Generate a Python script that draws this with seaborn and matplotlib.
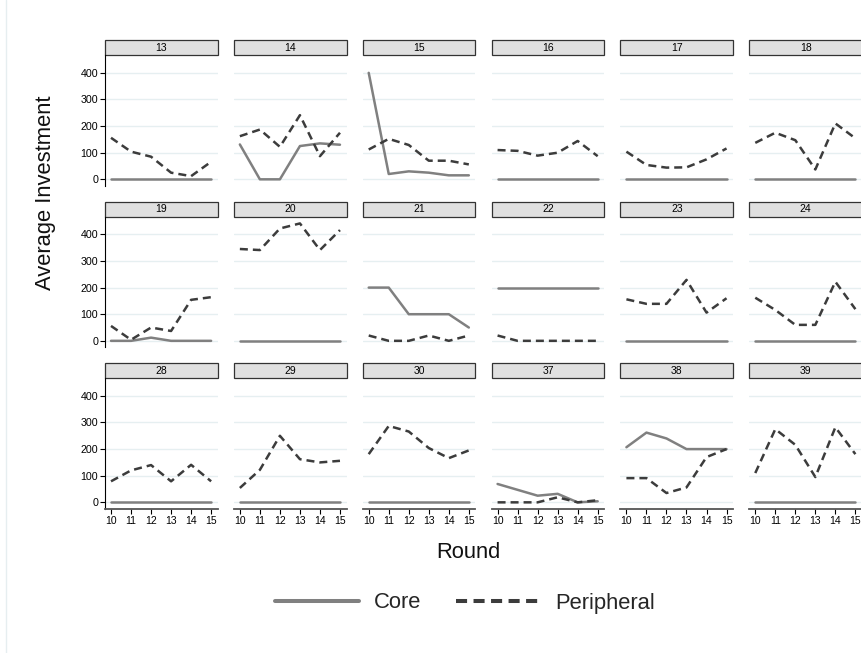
import pandas as pd
import matplotlib.pyplot as plt
import seaborn as sns
from matplotlib.lines import Line2D
from matplotlib.patches import Rectangle

# ---- data ----
groups = [13, 14, 15, 16, 17, 18,
          19, 20, 21, 22, 23, 24,
          28, 29, 30, 37, 38, 39]
rounds = [10, 11, 12, 13, 14, 15]

core = [
    [0, 0, 0, 0, 0, 0],
    [131, 0, 0, 125, 135, 130],
    [400, 20, 30, 25, 15, 15],
    [0, 0, 0, 0, 0, 0],
    [0, 0, 0, 0, 0, 0],
    [2, 2, 2, 2, 2, 2],
    [0, 0, 12, 0, 0, 0],
    [0, 0, 0, 0, 0, 0],
    [200, 200, 100, 100, 100, 50],
    [200, 200, 200, 200, 200, 200],
    [0, 0, 0, 0, 0, 0],
    [0, 0, 0, 0, 0, 0],
    [0, 0, 0, 0, 0, 0],
    [0, 0, 0, 0, 0, 0],
    [0, 0, 0, 0, 0, 0],
    [69, 47, 25, 32, 0, 4],
    [207, 262, 240, 200, 200, 200],
    [0, 0, 0, 0, 0, 0],
]
peripheral = [
    [156, 104, 85, 25, 12, 66],
    [162, 187, 122, 241, 87, 175],
    [112, 152, 129, 70, 70, 56],
    [110, 107, 89, 100, 144, 87],
    [104, 54, 44, 45, 75, 116],
    [137, 175, 147, 37, 210, 154],
    [56, 4, 50, 37, 154, 164],
    [345, 341, 422, 441, 341, 416],
    [20, 0, 0, 20, 0, 20],
    [20, 0, 0, 0, 0, 0],
    [156, 139, 139, 229, 106, 160],
    [162, 116, 60, 60, 222, 119],
    [79, 120, 140, 79, 141, 79],
    [54, 122, 250, 162, 150, 156],
    [181, 287, 266, 204, 166, 195],
    [0, 0, 0, 19, 0, 8],
    [91, 91, 35, 56, 170, 200],
    [110, 275, 216, 95, 282, 181],
]

rows = []
for g, c, p in zip(groups, core, peripheral):
    for r, cv, pv in zip(rounds, c, p):
        rows.append((g, r, 'Core', cv))
        rows.append((g, r, 'Peripheral', pv))
df = pd.DataFrame(rows, columns=['Group', 'Round', 'Type', 'Investment'])

# ---- style ----
sns.set_theme(style='white')
plt.rcParams['font.family'] = ['Liberation Sans', 'DejaVu Sans']

palette = {'Core': '#808080', 'Peripheral': '#3c3c3c'}
dashes = {'Core': '', 'Peripheral': (3.2, 2)}

W, H = 861, 653
fig, axes = plt.subplots(3, 6, figsize=(W / 100, H / 100), dpi=100)
plt.subplots_adjust(left=105 / W, right=862 / W, top=1 - 55 / H, bottom=1 - 509 / H,
                    wspace=0.143, hspace=0.233)

for i, (ax, g) in enumerate(zip(axes.flat, groups)):
    r, c = divmod(i, 6)
    sub = df[df['Group'] == g]
    sns.lineplot(data=sub, x='Round', y='Investment', hue='Type', style='Type',
                 palette=palette, dashes=dashes, linewidth=1.8, errorbar=None,
                 legend=False, ax=ax)
    ax.set_xlim(9.7, 15.33)
    ax.set_ylim(-25, 467)
    ax.set_yticks([0, 100, 200, 300, 400])
    ax.set_xticks(rounds)
    ax.yaxis.grid(True, color='#e6eff1', linewidth=1)
    ax.xaxis.grid(False)
    ax.set_xlabel('')
    ax.set_ylabel('')
    for s in ax.spines.values():
        s.set_visible(False)

    if c == 0:
        ax.spines['left'].set_visible(True)
        ax.spines['left'].set_color('black')
        ax.spines['left'].set_linewidth(0.8)
        ax.tick_params(axis='y', left=True, length=3.5, width=0.8, pad=1.5,
                       labelsize=7.7, colors='black')
    else:
        ax.tick_params(axis='y', left=False, labelleft=False)

    if r == 2:
        ax.spines['bottom'].set_visible(True)
        ax.spines['bottom'].set_color('#555555')
        ax.spines['bottom'].set_linewidth(1.3)
        ax.tick_params(axis='x', bottom=True, length=3.5, width=0.8, pad=1.5,
                       labelsize=7.5, colors='black')
    else:
        ax.tick_params(axis='x', bottom=False, labelbottom=False)

    # strip header
    ax.add_patch(Rectangle((0, 1), 1, 15 / 131, transform=ax.transAxes, clip_on=False,
                           facecolor='#e0e0e0', edgecolor='#333333', linewidth=0.9))
    ax.text(0.5, 1 + 7.5 / 131, str(g), transform=ax.transAxes, ha='center',
            va='center', fontsize=7.5, color='black')

# axis titles
fig.text(46 / W, 1 - 193 / H, 'Average Investment', rotation=90, ha='center',
         va='center', fontsize=15.8, color='#111111')
fig.text(468 / W, 1 - 553 / H, 'Round', ha='center', va='center',
         fontsize=15.8, color='#111111')

# legend
handles = [Line2D([], [], color=palette['Core'], lw=2.9),
           Line2D([], [], color=palette['Peripheral'], lw=2.9, dashes=(2.75, 1.6))]
fig.legend(handles, ['Core', 'Peripheral'], loc='center', ncol=2,
           bbox_to_anchor=(465 / W, 1 - 603 / H), frameon=False, fontsize=15.8,
           handlelength=3.8, handletextpad=0.7, columnspacing=1.6)

# faint outer region border on the left
fig.add_artist(Line2D([6 / W, 6 / W], [0, 1], color='#e6eef0', lw=1,
                      transform=fig.transFigure))

plt.savefig('out.png', dpi=100)
